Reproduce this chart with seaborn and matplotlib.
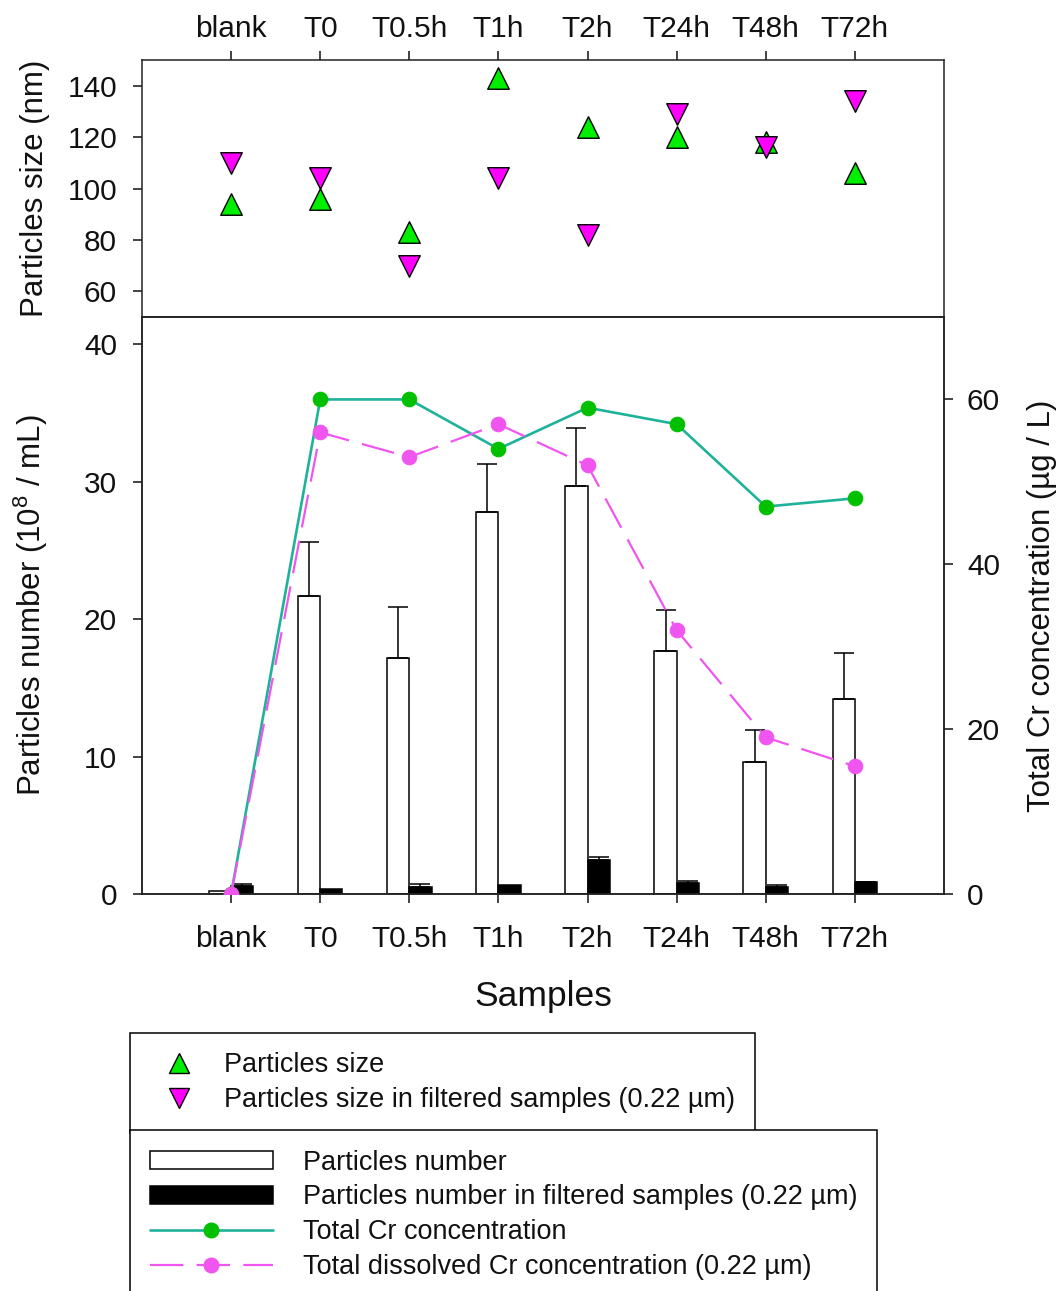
import numpy as np
import pandas as pd
import matplotlib
matplotlib.use("Agg")
import matplotlib.pyplot as plt
import seaborn as sns
from matplotlib.lines import Line2D
from matplotlib.patches import Patch

# ---- data -------------------------------------------------------------
samples = ["blank", "T0", "T0.5h", "T1h", "T2h", "T24h", "T48h", "T72h"]

# particle size (nm)
size_total = [94, 96, 83, 143, 124, 120, 118, 106]
size_filtered = [110, 104, 70, 104, 82, 129, 116, 134]

# particle number (10^8 / mL) with upper error
number_total = [0.2, 21.7, 17.2, 27.8, 29.7, 17.7, 9.6, 14.2]
number_total_err = [0.0, 3.9, 3.7, 3.5, 4.2, 3.0, 2.35, 3.35]
number_filtered = [0.6, 0.4, 0.5, 0.65, 2.45, 0.8, 0.5, 0.85]
number_filtered_err = [0.15, 0.0, 0.25, 0.0, 0.25, 0.15, 0.15, 0.05]

# chromium concentration (ug / L)
cr_total = [0, 60, 60, 54, 59, 57, 47, 48]
cr_dissolved = [0, 56, 53, 57, 52, 32, 19, 15.5]

lbl_size = "Particles size"
lbl_size_f = "Particles size in filtered samples (0.22 µm)"
lbl_num = "Particles number"
lbl_num_f = "Particles number in filtered samples (0.22 µm)"
lbl_cr = "Total Cr concentration"
lbl_cr_d = "Total dissolved Cr concentration (0.22 µm)"

# ---- style ------------------------------------------------------------
sns.set_style("ticks")
plt.rcParams["font.family"] = ["Liberation Sans", "DejaVu Sans"]
plt.rcParams.update({
    "mathtext.fontset": "custom",
    "mathtext.rm": "Liberation Sans",
    "mathtext.it": "Liberation Sans:italic",
    "mathtext.bf": "Liberation Sans:bold",
    "axes.linewidth": 1.1,
    "axes.edgecolor": "#222222",
    "xtick.major.size": 6.5,
    "ytick.major.size": 6.5,
    "xtick.major.width": 1.1,
    "ytick.major.width": 1.1,
    "xtick.direction": "out",
    "ytick.direction": "out",
    "xtick.color": "#111111",
    "ytick.color": "#111111",
    "text.color": "#111111",
    "axes.labelcolor": "#111111",
})

GREEN_TRI = "#00EE00"
MAGENTA_TRI = "#FF00FF"
TEAL = "#1FB29A"
GREEN_DOT = "#00C000"
PINK = "#F055F0"
DASH = (0, (15, 6))

TICK_FS = 21.5
LABEL_FS = 22.5
LEG_FS = 19.5

W, H = 1062, 1291
fig = plt.figure(figsize=(W / 100, H / 100), dpi=100)

L, R = 142, 944
ax_top = fig.add_axes([L / W, 1 - 317 / H, (R - L) / W, (317 - 60) / H])
ax = fig.add_axes([L / W, 1 - 894 / H, (R - L) / W, (894 - 317) / H])

x = np.arange(len(samples))

# ---- upper panel: particle size ---------------------------------------
sns.scatterplot(x=x, y=size_total, marker="^", s=240, color=GREEN_TRI,
                edgecolor="black", linewidth=1.0, ax=ax_top, zorder=3,
                legend=False)
sns.scatterplot(x=x, y=size_filtered, marker="v", s=240, color=MAGENTA_TRI,
                edgecolor="black", linewidth=1.0, ax=ax_top, zorder=4,
                legend=False)
ax_top.set_xlim(-1, 8)
ax_top.set_ylim(50, 150)
ax_top.set_xticks(x)
ax_top.set_xticklabels(samples)
ax_top.xaxis.tick_top()
ax_top.tick_params(axis="x", top=True, bottom=False, labeltop=True,
                   labelbottom=False, labelsize=TICK_FS, pad=6)
ax_top.set_yticks([60, 80, 100, 120, 140])
ax_top.tick_params(axis="y", labelsize=TICK_FS, pad=11.5)
ax_top.set_xlabel("")
ax_top.set_ylabel("Particles size (nm)", fontsize=LABEL_FS)
ax_top.yaxis.set_label_coords(-0.1147, 0.5)

# ---- lower panel: particle number bars ---------------------------------
bar_df = pd.DataFrame({
    "Sample": samples * 2,
    "Series": [lbl_num] * len(samples) + [lbl_num_f] * len(samples),
    "Count": number_total + number_filtered,
})
sns.barplot(data=bar_df, x="Sample", y="Count", hue="Series",
            order=samples, hue_order=[lbl_num, lbl_num_f],
            palette=["white", "black"], saturation=1, width=0.5,
            edgecolor="black", linewidth=1.1, errorbar=None, legend=False,
            ax=ax, zorder=2)

off = 0.125
for xs, vals, errs in ((x - off, number_total, number_total_err),
                       (x + off, number_filtered, number_filtered_err)):
    vals = np.asarray(vals)
    errs = np.asarray(errs)
    m = errs > 0
    ax.errorbar(xs[m], vals[m], yerr=[np.zeros(m.sum()), errs[m]],
                fmt="none", ecolor="black", elinewidth=1.1, capsize=7,
                capthick=1.1, zorder=3)

ax.set_ylim(0, 42)
ax.set_yticks([0, 10, 20, 30, 40])
ax.tick_params(axis="y", labelsize=TICK_FS, pad=11.5)
ax.tick_params(axis="x", labelsize=TICK_FS, pad=16)
ax.set_ylabel("Particles number (10$^8$ / mL)", fontsize=LABEL_FS)
ax.yaxis.set_label_coords(-0.1147, 0.5)
ax.set_xlabel("Samples", fontsize=25.5)
ax.xaxis.set_label_coords(0.5, -0.149)

# ---- lower panel: chromium concentration (right axis) ------------------
ax2 = ax.twinx()
sns.lineplot(x=x, y=cr_total, ax=ax2, color=TEAL, linewidth=1.9,
             marker="o", markersize=10.5, markerfacecolor=GREEN_DOT,
             markeredgecolor=GREEN_DOT, zorder=3)
sns.lineplot(x=x, y=cr_dissolved, ax=ax2, color=PINK, linewidth=1.6,
             linestyle=DASH, marker="o", markersize=10.5,
             markerfacecolor=PINK, markeredgecolor=PINK, zorder=4)
ax2.set_ylim(0, 70)
ax2.set_yticks([0, 20, 40, 60])
ax2.tick_params(axis="y", labelsize=TICK_FS, pad=10)
ax2.set_ylabel("Total Cr concentration (µg / L)", fontsize=LABEL_FS)
ax2.yaxis.set_label_coords(1.1035, 0.5)
ax.set_xlim(-1, 8)

# ---- legends ----------------------------------------------------------
h_size = [
    Line2D([], [], ls="none", marker="^", markersize=15,
           markerfacecolor=GREEN_TRI, markeredgecolor="black",
           markeredgewidth=1.0),
    Line2D([], [], ls="none", marker="v", markersize=15,
           markerfacecolor=MAGENTA_TRI, markeredgecolor="black",
           markeredgewidth=1.0),
]
leg1 = fig.legend(h_size, [lbl_size, lbl_size_f], loc="upper left",
                  bbox_to_anchor=(130 / W, 1 - 1033 / H),
                  bbox_transform=fig.transFigure, borderaxespad=0,
                  frameon=True, fancybox=False, edgecolor="black",
                  framealpha=1, fontsize=LEG_FS, handlelength=2.15,
                  handletextpad=0.61, borderpad=0.72, labelspacing=0.33)
leg1.get_frame().set_linewidth(1.1)

h_main = [
    Patch(facecolor="white", edgecolor="black", linewidth=1.1),
    Patch(facecolor="black", edgecolor="black", linewidth=1.1),
    Line2D([], [], color=TEAL, lw=1.9, marker="o", markersize=10.5,
           markerfacecolor=GREEN_DOT, markeredgecolor=GREEN_DOT),
    Line2D([], [], color=PINK, lw=1.6, linestyle=DASH, marker="o",
           markersize=10.5, markerfacecolor=PINK, markeredgecolor=PINK),
]
leg2 = fig.legend(h_main, [lbl_num, lbl_num_f, lbl_cr, lbl_cr_d],
                  loc="upper left", bbox_to_anchor=(130 / W, 1 - 1130 / H),
                  bbox_transform=fig.transFigure, borderaxespad=0,
                  frameon=True, fancybox=False, edgecolor="black",
                  framealpha=1, fontsize=LEG_FS, handlelength=4.56,
                  handleheight=0.65, handletextpad=1.11, borderpad=0.72,
                  labelspacing=0.33)
leg2.get_frame().set_linewidth(1.1)

fig.savefig("out.png", dpi=100)
